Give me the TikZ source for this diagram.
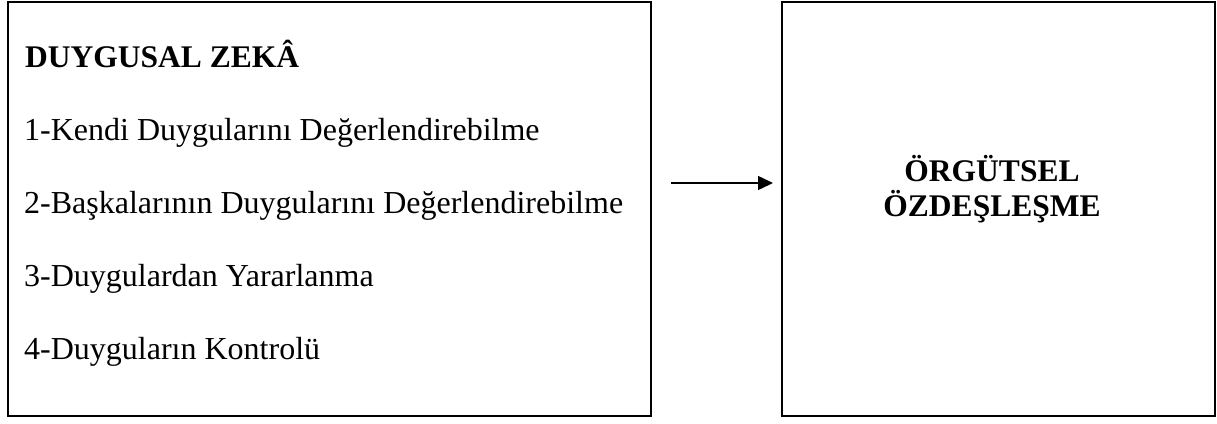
\documentclass[tikz,border=0pt]{standalone}
\usepackage{fontspec}
\setmainfont{Liberation Serif}
\usetikzlibrary{arrows.meta,positioning}

\tikzset{
  box/.style={draw, line width=2pt, inner sep=0pt},
  item/.style={anchor=base west, inner sep=0pt, font=\fontsize{32}{35}\selectfont},
  head/.style={item, font=\fontsize{31.5}{35}\selectfont\bfseries},
  arr/.style={-{Triangle[length=15pt,width=14pt]}, line width=1.5pt},
}

\begin{document}
\begin{tikzpicture}[x=1pt,y=-1pt]
    \useasboundingbox (0,0) rectangle (1217,423);
    % boxes
    \node[box, minimum width=643pt, minimum height=414pt] (zeka) at (329.5,209) {};
    \node[box, minimum width=433pt, minimum height=414pt] (orgut) at (998.5,209) {};

    % left box content
    \node[head] (baslik) at (25,67) {DUYGUSAL ZEKÂ};
    \node[item] (m1) at (24,140) {1-Kendi Duygularını Değerlendirebilme};
    \node[item] (m2) at (24,213) {2-Başkalarının Duygularını Değerlendirebilme};
    \node[item] (m3) at (24,286) {3-Duygulardan Yararlanma};
    \node[item] (m4) at (24,359) {4-Duyguların Kontrolü};

    % right box content
    \node[align=center, inner sep=0pt, font=\fontsize{31.5}{35}\selectfont\bfseries] (sonuc) at (992,189) {ÖRGÜTSEL\\ÖZDEŞLEŞME};

    \draw[arr, shorten <=19pt, shorten >=8pt] ([yshift=26pt]zeka.east) -- ([yshift=26pt]orgut.west);
\end{tikzpicture}
\end{document}
